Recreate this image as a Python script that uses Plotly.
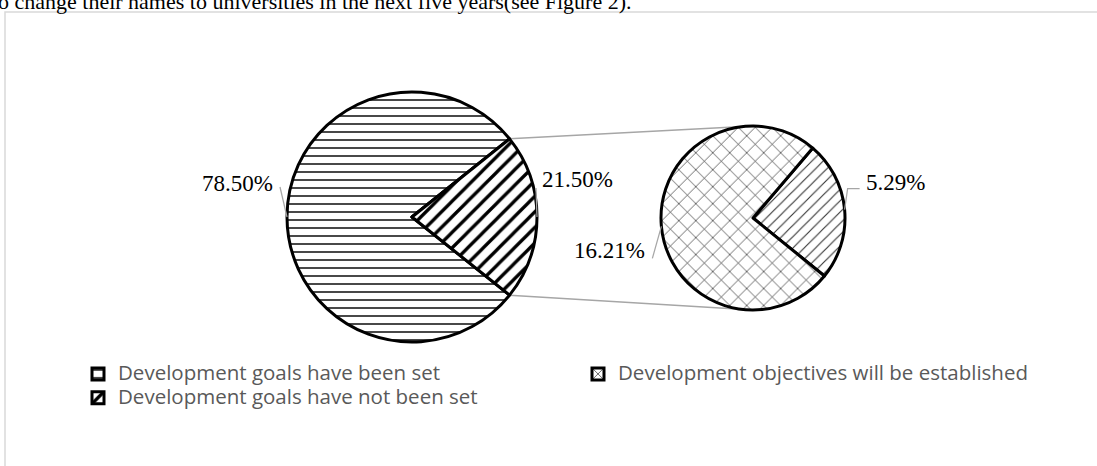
import math
import plotly.graph_objects as go

W, H = 1097, 466

# ---------------- data ----------------
main_labels = ["Development goals have been set",
               "Development objectives will be established",
               "Development goals have not been set"]
main_values = [78.50, 0.0, 21.50]
main_text = ["78.50%", "", "21.50%"]

sub_labels = ["Development goals have not been set",
              "Development objectives will be established"]
sub_values = [5.29, 16.21]
sub_text = ["5.29%", "16.21%"]

caption_text = "o change their names to universities in the next five years(see Figure 2)."

# ---------------- geometry / style (pixels) ----------------
L_CX, L_CY, L_R = 412, 217, 125
R_CX, R_CY, R_R = 753, 218, 92
SUB_ROT = 40.5
LEG_FS = 20.5
LABEL_FONT = dict(family="Liberation Serif", size=23, color="black")
GRAY = "#a6a6a6"

# label offsets (text centre relative to slice mid point on the rim) and leader paths
main_lab_off = {0: (-50, -34), 2: (40, -37)}
main_leader = {0: [(-7, -30)], 2: [(-1, -29)]}
sub_lab_off = {0: (51, -27), 1: (-52, 24)}
sub_leader = {0: [(3, -21), (15, -21)], 1: [(-9, 32)]}


def px(x):
    return x / W


def py(y):
    return 1 - y / H


def dom(cx, cy, r):
    return dict(x=[px(cx - r), px(cx + r)], y=[py(cy + r), py(cy - r)])


def rim(cx, cy, r, ang):
    a = math.radians(ang)
    return cx + r * math.sin(a), cy - r * math.cos(a)


main_total = sum(main_values)
sub_total = sum(sub_values)
# centre the "not set" slice at 3 o'clock
cum_before = sum(main_values[:2])
main_rot = (90 - 360 * (cum_before + main_values[2] / 2) / main_total) % 360


def slice_angles(values, rot, total):
    out = []
    c = 0
    for v in values:
        a0 = rot + 360 * c / total
        a1 = rot + 360 * (c + v) / total
        out.append((a0, a1))
        c += v
    return out


main_ang = slice_angles(main_values, main_rot, main_total)
sub_ang = slice_angles(sub_values, SUB_ROT, sub_total)

fig = go.Figure()

fig.add_trace(go.Pie(
    labels=[f'<span style="font-size:{LEG_FS}px">{t}</span>' for t in main_labels],
    values=main_values,
    sort=False,
    direction="clockwise",
    rotation=main_rot,
    textinfo="none",
    hoverinfo="label+value",
    domain=dom(L_CX, L_CY, L_R),
    marker=dict(
        colors=["white", "white", "white"],
        line=dict(color="black", width=3),
        pattern=dict(shape=["-", "x", "/"], fgcolor=["black", "#111111", "black"],
                     bgcolor="white", size=[8, 12, 11], solidity=[0.18, 0.1, 0.3],
                     fillmode="replace"),
    ),
    showlegend=True,
))

fig.add_trace(go.Pie(
    labels=sub_labels,
    values=sub_values,
    sort=False,
    direction="clockwise",
    rotation=SUB_ROT,
    textinfo="none",
    hoverinfo="label+value",
    domain=dom(R_CX, R_CY, R_R),
    marker=dict(
        colors=["white", "white"],
        line=dict(color="black", width=3),
        pattern=dict(shape=["/", "x"], fgcolor=["#333333", "#111111"],
                     bgcolor="white", size=[8, 12], solidity=[0.14, 0.1],
                     fillmode="replace"),
    ),
    showlegend=False,
))

shapes = []
annotations = []

# chart frame
shapes.append(dict(type="rect", xref="paper", yref="paper",
                   x0=px(5), x1=px(W + 20), y0=py(H + 20), y1=py(12),
                   line=dict(color="#d9d9d9", width=1.5), fillcolor="rgba(0,0,0,0)",
                   layer="below"))

# connector lines between the pies
top_src = rim(L_CX, L_CY, L_R, main_ang[2][0])
bot_src = rim(L_CX, L_CY, L_R, main_ang[2][1])
top_dst = rim(R_CX, R_CY, R_R, 0)
bot_dst = rim(R_CX, R_CY, R_R, 180)
for s, d in ((top_src, top_dst), (bot_src, bot_dst)):
    shapes.append(dict(type="line", xref="paper", yref="paper",
                       x0=px(s[0]), y0=py(s[1]), x1=px(d[0]), y1=py(d[1]),
                       line=dict(color=GRAY, width=1.5), layer="below"))


def add_label(cx, cy, r, angs, idx, txt, off, leader):
    a0, a1 = angs[idx]
    mx, my = rim(cx, cy, r, (a0 + a1) / 2)
    pts = [(mx, my)] + [(mx + dx, my + dy) for dx, dy in leader]
    path = "M " + " L ".join(f"{px(x):.5f},{py(y):.5f}" for x, y in pts)
    shapes.append(dict(type="path", xref="paper", yref="paper", path=path,
                       line=dict(color=GRAY, width=1.25)))
    annotations.append(dict(x=px(mx + off[0]), y=py(my + off[1]), xref="paper", yref="paper",
                            text=txt, showarrow=False, xanchor="center", yanchor="middle",
                            font=LABEL_FONT))


for i, t in enumerate(main_text):
    if t:
        add_label(L_CX, L_CY, L_R, main_ang, i, t, main_lab_off[i], main_leader[i])
for i, t in enumerate(sub_text):
    add_label(R_CX, R_CY, R_R, sub_ang, i, t, sub_lab_off[i], sub_leader[i])

# caption from the surrounding document (cut at the top edge)
annotations.append(dict(x=px(-4), y=py(1), xref="paper", yref="paper", text=caption_text,
                        showarrow=False, xanchor="left", yanchor="middle",
                        font=dict(family="Liberation Serif", size=22, color="black")))

fig.update_layout(
    width=W, height=H,
    margin=dict(l=0, r=0, t=0, b=0),
    paper_bgcolor="white", plot_bgcolor="white",
    shapes=shapes,
    annotations=annotations,
    showlegend=True,
    legend=dict(orientation="h", x=px(78), xanchor="left", y=py(357), yanchor="top",
                entrywidth=455, entrywidthmode="pixels",
                font=dict(family="Open Sans", size=16, color="#595959"),
                bgcolor="rgba(0,0,0,0)", borderwidth=0, traceorder="normal"),
)

fig.write_html("out.html")
